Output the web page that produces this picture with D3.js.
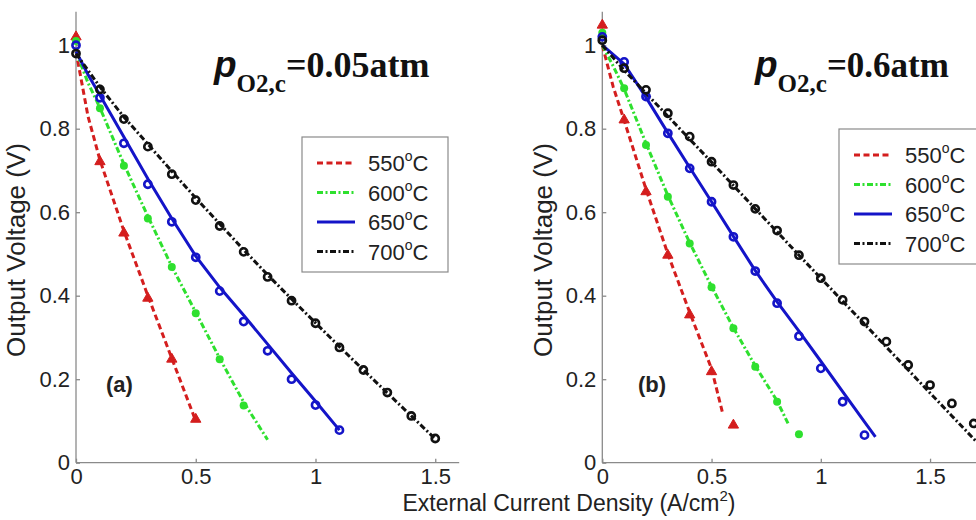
<!DOCTYPE html>
<html lang="en">
<head>
<meta charset="utf-8">
<title>Output voltage vs current density</title>
<script src="https://cdn.jsdelivr.net/npm/d3@7"></script>
<style>
  body { margin: 0; background: #fff; }
  svg text { font-family: "Liberation Sans", Arial, sans-serif; fill: #222; }
  .axis path, .axis line { stroke: #8a8a8a; stroke-width: 1.3; }
  .axis text { font-size: 22px; fill: #222; }
</style>
</head>
<body>
<script>
// temperatures (legend)
var temps = ["550", "600", "650", "700"];
var colors = ["#d41e1e", "#2ee02e", "#1414c8", "#111111"];
var xTicks = [0, 0.5, 1, 1.5];
var yTicks = [0, 0.2, 0.4, 0.6, 0.8, 1];

// panel (a), pO2,c = 0.05 atm : measured points
var a550x = [0, 0.1, 0.2, 0.3, 0.4, 0.5];
var a550v = [1.02, 0.721, 0.550, 0.394, 0.248, 0.104];
var a600x = [0, 0.1, 0.2, 0.3, 0.4, 0.5, 0.6, 0.7];
var a600v = [1.01, 0.849, 0.711, 0.585, 0.469, 0.358, 0.248, 0.137];
var a650x = [0, 0.1, 0.2, 0.3, 0.4, 0.5, 0.6, 0.7, 0.8, 0.9, 1.0, 1.1];
var a650v = [1.0, 0.874, 0.765, 0.667, 0.577, 0.492, 0.411, 0.338, 0.268, 0.200, 0.138, 0.078];
var a700x = [0, 0.1, 0.2, 0.3, 0.4, 0.5, 0.6, 0.7, 0.8, 0.9, 1.0, 1.1, 1.2, 1.3, 1.4, 1.5];
var a700v = [0.98, 0.894, 0.823, 0.757, 0.691, 0.629, 0.567, 0.505, 0.445, 0.388, 0.334, 0.276, 0.222, 0.168, 0.112, 0.058];

// panel (a) : model curves
var am550x = [0, 0.05, 0.1, 0.2, 0.3, 0.4, 0.5];
var am550v = [0.985, 0.83, 0.725, 0.555, 0.40, 0.25, 0.10];
var am600x = [0, 0.05, 0.1, 0.2, 0.3, 0.4, 0.5, 0.6, 0.7, 0.8];
var am600v = [0.985, 0.91, 0.85, 0.715, 0.59, 0.47, 0.36, 0.25, 0.145, 0.055];
var am650x = [0, 0.05, 0.1, 0.2, 0.3, 0.4, 0.5, 0.6, 0.7, 0.8, 0.9, 1.0, 1.1];
var am650v = [0.985, 0.93, 0.88, 0.78, 0.68, 0.585, 0.495, 0.42, 0.353, 0.284, 0.215, 0.147, 0.078];
var am700x = [0, 0.1, 0.2, 0.3, 0.4, 0.5, 0.6, 0.7, 0.8, 0.9, 1.0, 1.1, 1.2, 1.3, 1.4, 1.5];
var am700v = [0.98, 0.9, 0.828, 0.763, 0.698, 0.634, 0.572, 0.51, 0.45, 0.392, 0.335, 0.278, 0.222, 0.167, 0.112, 0.057];

// panel (b), pO2,c = 0.6 atm : measured points
var b550x = [0, 0.1, 0.2, 0.3, 0.4, 0.5, 0.6];
var b550v = [1.048, 0.821, 0.649, 0.497, 0.354, 0.218, 0.09];
var b600x = [0, 0.1, 0.2, 0.3, 0.4, 0.5, 0.6, 0.7, 0.8, 0.9];
var b600v = [1.03, 0.897, 0.761, 0.637, 0.525, 0.420, 0.322, 0.230, 0.146, 0.068];
var b650x = [0, 0.1, 0.2, 0.3, 0.4, 0.5, 0.6, 0.7, 0.8, 0.9, 1.0, 1.1, 1.2];
var b650v = [1.02, 0.960, 0.877, 0.789, 0.705, 0.625, 0.541, 0.459, 0.382, 0.303, 0.226, 0.146, 0.066];
var b700x = [0, 0.1, 0.2, 0.3, 0.4, 0.5, 0.6, 0.7, 0.8, 0.9, 1.0, 1.1, 1.2, 1.3, 1.4, 1.5, 1.6, 1.7];
var b700v = [1.012, 0.945, 0.893, 0.837, 0.781, 0.721, 0.665, 0.608, 0.556, 0.497, 0.442, 0.390, 0.338, 0.290, 0.234, 0.186, 0.142, 0.094];

// panel (b) : model curves
var bm550x = [0, 0.05, 0.1, 0.2, 0.3, 0.4, 0.5, 0.55];
var bm550v = [1.0, 0.9, 0.82, 0.655, 0.5, 0.36, 0.225, 0.12];
var bm600x = [0, 0.05, 0.1, 0.2, 0.3, 0.4, 0.5, 0.6, 0.7, 0.8, 0.85];
var bm600v = [1.0, 0.95, 0.895, 0.765, 0.64, 0.527, 0.422, 0.323, 0.232, 0.148, 0.094];
var bm650x = [0, 0.1, 0.2, 0.3, 0.4, 0.5, 0.6, 0.7, 0.8, 0.9, 1.0, 1.1, 1.2, 1.25];
var bm650v = [1.0, 0.955, 0.875, 0.79, 0.707, 0.625, 0.542, 0.46, 0.385, 0.315, 0.243, 0.17, 0.098, 0.062];
var bm700x = [0, 0.1, 0.2, 0.3, 0.4, 0.5, 0.6, 0.7, 0.8, 0.9, 1.0, 1.1, 1.2, 1.3, 1.4, 1.5, 1.6, 1.7, 1.8];
var bm700v = [1.0, 0.94, 0.885, 0.83, 0.775, 0.72, 0.664, 0.608, 0.553, 0.497, 0.442, 0.387, 0.332, 0.277, 0.222, 0.167, 0.112, 0.057, 0.002];

var W = 976, H = 520;
var svg = d3.select("body").append("svg")
    .attr("width", W).attr("height", H);

// line dash patterns per temperature
var dashes = ["6,3.5", "6,2.5,2,2.5", null, "6,2.5,2,2.5"];

function zip(xs, vs) {
  return xs.map(function(x, i) { return [x, vs[i]]; });
}

function drawPanel(opt) {
  var xScale = d3.scaleLinear().domain([0, opt.xmax]).range([opt.x0, opt.x0 + opt.xmax * opt.kx]);
  var yScale = d3.scaleLinear().domain([0, 1.08]).range([462.7, 462.7 - 1.08 * 417.5]);

  var g = svg.append("g");

  var xAxis = d3.axisBottom(xScale).tickValues(xTicks).tickSize(-4).tickPadding(6)
      .tickFormat(d3.format("~g"));
  var yAxis = d3.axisLeft(yScale).tickValues(yTicks).tickSize(-4).tickPadding(6)
      .tickFormat(d3.format("~g"));

  g.append("g").attr("class", "axis")
    .attr("transform", "translate(0," + yScale(0) + ")")
    .call(xAxis)
    .call(function(s) { s.select(".domain").attr("d", "M" + opt.x0 + ",0H" + xScale(opt.xmax)); });

  g.append("g").attr("class", "axis")
    .attr("transform", "translate(" + opt.x0 + ",0)")
    .call(yAxis)
    .call(function(s) { s.select(".domain").attr("d", "M0," + yScale(1.08) + "V" + yScale(0)); });

  var line = d3.line()
      .x(function(d) { return xScale(d[0]); })
      .y(function(d) { return yScale(d[1]); });

  for (var k = 0; k < 4; k++) {
    g.append("path")
      .datum(zip(opt.model[k][0], opt.model[k][1]))
      .attr("d", line)
      .attr("fill", "none")
      .attr("stroke", colors[k])
      .attr("stroke-width", 3)
      .attr("stroke-dasharray", dashes[k]);
  }

  for (var k = 0; k < 4; k++) {
    var pts = zip(opt.meas[k][0], opt.meas[k][1]);
    var sel = g.selectAll(".m" + k).data(pts).enter();
    if (k === 0) {
      sel.append("path").attr("class", "m0")
        .attr("d", d3.symbol().type(d3.symbolTriangle).size(46))
        .attr("transform", function(d) { return "translate(" + xScale(d[0]) + "," + yScale(d[1]) + ")"; })
        .attr("fill", colors[0]).attr("stroke", colors[0]).attr("stroke-width", 1);
    } else if (k === 1) {
      sel.append("circle").attr("class", "m1")
        .attr("cx", function(d) { return xScale(d[0]); })
        .attr("cy", function(d) { return yScale(d[1]); })
        .attr("r", 4).attr("fill", colors[1]);
    } else {
      sel.append("circle").attr("class", "m" + k)
        .attr("cx", function(d) { return xScale(d[0]); })
        .attr("cy", function(d) { return yScale(d[1]); })
        .attr("r", 3.6).attr("fill", "none")
        .attr("stroke", colors[k]).attr("stroke-width", 2.6);
    }
  }

  // panel tag
  g.append("text")
    .attr("x", opt.tagX).attr("y", 392)
    .attr("font-size", 22).attr("font-weight", "bold")
    .text(opt.tag);

  // title: p_O2,c = ...
  var t = g.append("text")
    .attr("x", opt.titleX).attr("y", 77)
    .style("font-family", "'Liberation Serif', 'Times New Roman', serif")
    .style("font-weight", "bold").style("fill", "#111");
  t.append("tspan").attr("font-size", 37).style("font-style", "italic")
    .style("font-family", "'Liberation Sans', Arial, sans-serif").text("p");
  t.append("tspan").attr("font-size", 25).attr("dy", 15).text("O2,c");
  t.append("tspan").attr("font-size", opt.titleSize).attr("dy", -15).text(opt.title);

  // y label
  g.append("text")
    .attr("transform", "translate(" + opt.ylabX + ",250) rotate(-90)")
    .attr("text-anchor", "middle")
    .attr("font-size", 26)
    .text("Output Voltage (V)");

  // legend
  var lg = g.append("g");
  lg.append("rect")
    .attr("x", opt.legX).attr("y", opt.legY)
    .attr("width", 146).attr("height", 135)
    .attr("fill", "#fff").attr("stroke", "#8a8a8a").attr("stroke-width", 1.2);
  for (var k = 0; k < 4; k++) {
    var ry = opt.legY + 26 + k * 29.5;
    lg.append("line")
      .attr("x1", opt.legX + 15).attr("x2", opt.legX + 53)
      .attr("y1", ry).attr("y2", ry)
      .attr("stroke", colors[k]).attr("stroke-width", 3)
      .attr("stroke-dasharray", dashes[k]);
    var lt = lg.append("text")
      .attr("x", opt.legX + 66).attr("y", ry + 8)
      .attr("font-size", 22);
    lt.append("tspan").text(temps[k]);
    lt.append("tspan").attr("font-size", 14).attr("dy", -10).text("o");
    lt.append("tspan").attr("dy", 10).text("C");
  }
}

drawPanel({
  x0: 76, kx: 239.5, xmax: 1.6,
  meas: [[a550x, a550v], [a600x, a600v], [a650x, a650v], [a700x, a700v]],
  model: [[am550x, am550v], [am600x, am600v], [am650x, am650v], [am700x, am700v]],
  tag: "(a)", tagX: 106,
  title: "=0.05atm", titleX: 214, titleSize: 36,
  ylabX: 25, legX: 302, legY: 137
});

drawPanel({
  x0: 602.3, kx: 218.5, xmax: 2.0,
  meas: [[b550x, b550v], [b600x, b600v], [b650x, b650v], [b700x, b700v]],
  model: [[bm550x, bm550v], [bm600x, bm600v], [bm650x, bm650v], [bm700x, bm700v]],
  tag: "(b)", tagX: 638,
  title: "=0.6atm", titleX: 755, titleSize: 35,
  ylabX: 552, legX: 839, legY: 129
});

// shared x label
var xl = svg.append("text")
  .attr("x", 569).attr("y", 511)
  .attr("text-anchor", "middle")
  .attr("font-size", 23);
xl.append("tspan").text("External Current Density (A/cm");
xl.append("tspan").attr("font-size", 15).attr("dy", -10).text("2");
xl.append("tspan").attr("dy", 10).text(")");
</script>
</body>
</html>
